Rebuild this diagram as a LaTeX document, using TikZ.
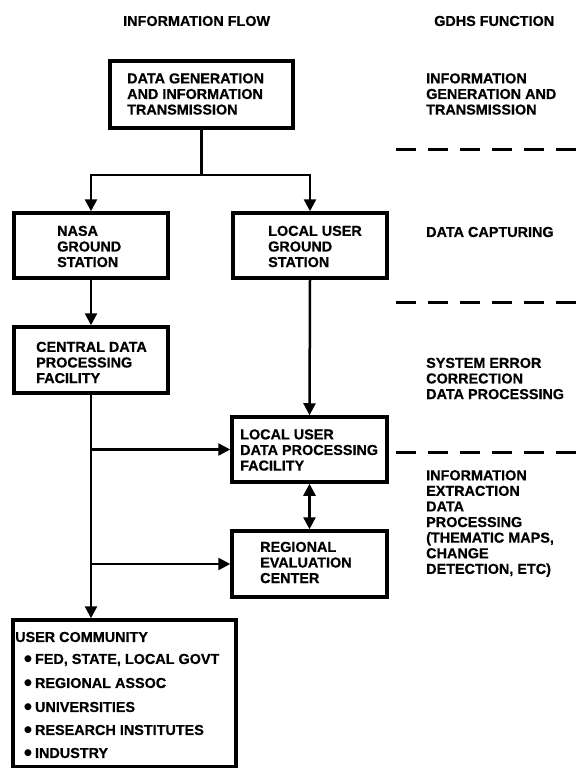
\documentclass[tikz,border=0pt]{standalone}
\usepackage{fontspec}
\setmainfont[BoldFeatures={FakeBold=0.6}]{Liberation Sans}
\newfontfamily\symfont{DejaVu Sans}
\newcommand{\dotbullet}{\raisebox{2.2pt}{\symfont\fontsize{9}{9}\selectfont ●}\hspace{3pt}}
\usetikzlibrary{arrows.meta}
\begin{document}
\begin{tikzpicture}[x=1pt,y=-1pt,
  box/.style={draw, line width=3.5pt, inner sep=0pt},
  txt/.style={font=\bfseries\fontsize{14.4}{15.6}\selectfont, align=left, anchor=west, inner sep=0pt},
  flow/.style={line width=2.5pt, -{Triangle[length=12pt,width=12pt]}},
  both/.style={line width=2.5pt, {Triangle[length=12pt,width=12pt]}-{Triangle[length=12pt,width=12pt]}},
  plainline/.style={line width=2.5pt},
  sepline/.style={line width=3pt, dash pattern=on 20pt off 12pt}]
\useasboundingbox (0,0) rectangle (578,768);

% headers
\node[txt] (hflow) at (123,21) {INFORMATION FLOW};
\node[txt] (hgdhs) at (434,21) {GDHS FUNCTION};

% boxes
\node[box, minimum width=183pt, minimum height=67pt] (top) at (201.5,94.5) {};
\node[box, minimum width=154pt, minimum height=65pt] (nasa) at (91,245.5) {};
\node[box, minimum width=154pt, minimum height=65pt] (lug) at (310,245.5) {};
\node[box, minimum width=154pt, minimum height=66pt] (central) at (91,360) {};
\node[box, minimum width=155pt, minimum height=65pt] (ludp) at (309.5,449.5) {};
\node[box, minimum width=155pt, minimum height=66pt] (reg) at (309.5,564) {};
\node[box, minimum width=223pt, minimum height=147pt] (uc) at (124.5,693.5) {};

% box texts
\node[txt] (topt) at (127,94) {DATA GENERATION\\AND INFORMATION\\TRANSMISSION};
\node[txt] (nasat) at (57,246.5) {NASA\\GROUND\\STATION};
\node[txt] (lugt) at (268,246.5) {LOCAL USER\\GROUND\\STATION};
\node[txt] (centralt) at (36,362.5) {CENTRAL DATA\\PROCESSING\\FACILITY};
\node[txt] (ludpt) at (240,450) {LOCAL USER\\DATA PROCESSING\\FACILITY};
\node[txt] (regt) at (260,562.5) {REGIONAL\\EVALUATION\\CENTER};
\node[txt] (uct) at (15,637) {USER COMMUNITY};
\node[txt] (uc1) at (24,660) {\dotbullet FED, STATE, LOCAL GOVT};
\node[txt] (uc2) at (24,683) {\dotbullet REGIONAL ASSOC};
\node[txt] (uc3) at (24,707) {\dotbullet UNIVERSITIES};
\node[txt] (uc4) at (24,730) {\dotbullet RESEARCH INSTITUTES};
\node[txt] (uc5) at (24,753) {\dotbullet INDUSTRY};

% right column
\node[txt] (f1) at (426,94) {INFORMATION\\GENERATION AND\\TRANSMISSION};
\node[txt] (f2) at (426,232) {DATA CAPTURING};
\node[txt] (f3) at (426,378.5) {SYSTEM ERROR\\CORRECTION\\DATA PROCESSING};
\node[txt] (f4) at (426,523.5) {INFORMATION\\EXTRACTION\\DATA\\PROCESSING\\(THEMATIC MAPS,\\CHANGE\\DETECTION, ETC)};

\draw[sepline] (396,149) -- (578,149);
\draw[sepline] (396,302) -- (578,302);
\draw[sepline] (396,452) -- (578,452);

% connectors
\coordinate (jl) at (91,175);
\coordinate (jr) at (310,175);
\coordinate (jc) at (top.south |- jl);
\draw[plainline] (top.south) -- (jc);
\draw[plainline] ([xshift=-1.25pt]jl) -- ([xshift=1.25pt]jr);
\draw[flow] (jl) -- (nasa.north);
\draw[flow] (jr) -- (lug.north);
\draw[flow] (nasa.south) -- (central.north);
\draw[flow] (lug.south) -- (ludp.north);
\draw[flow] (central.south) -- (central.south |- uc.north);
\coordinate (b1) at (central.south |- ludp.west);
\coordinate (b2) at (central.south |- reg.west);
\draw[flow] (b1) -- (ludp.west);
\draw[flow] (b2) -- (reg.west);
\draw[both] (ludp.south) -- (reg.north);
\end{tikzpicture}
\end{document}
